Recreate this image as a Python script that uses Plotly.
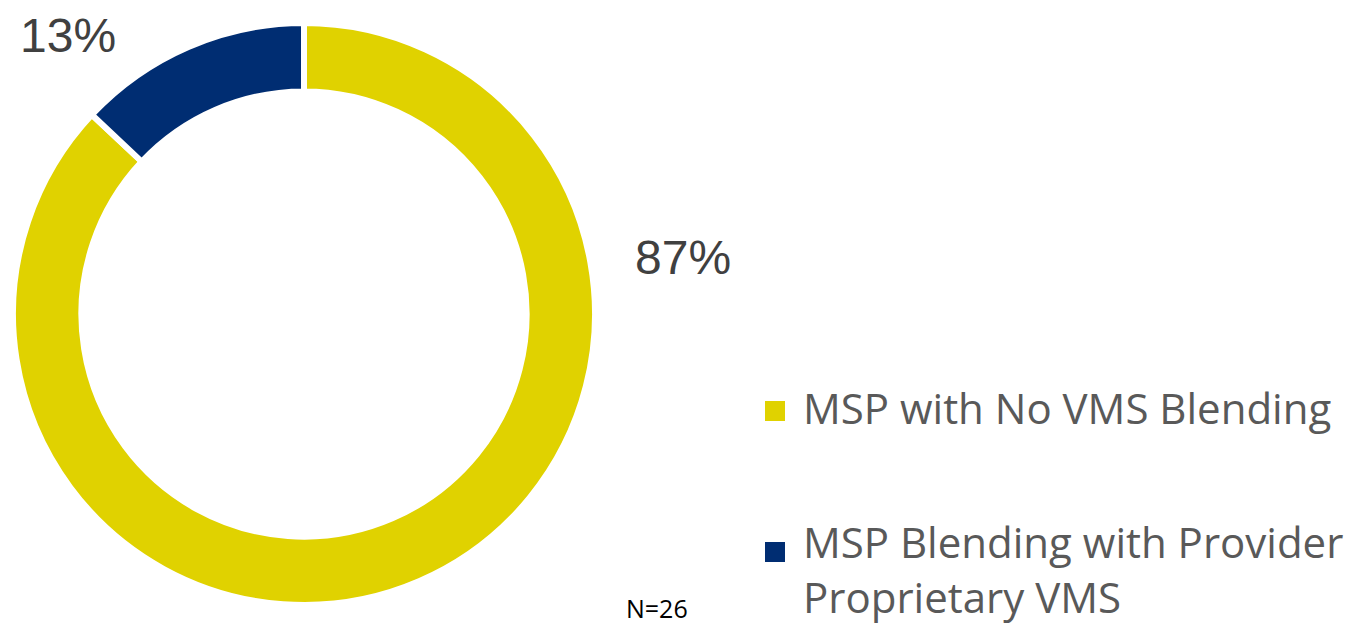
import plotly.graph_objects as go

labels = ["MSP with No VMS Blending", "MSP Blending with Provider<br>Proprietary VMS"]
values = [87, 13]
colors = ["#E0D200", "#002D72"]
sample_note = "N=26"

W, H = 1350, 629

fig = go.Figure()
fig.add_trace(go.Pie(
    labels=labels,
    values=values,
    hole=0.765,
    sort=False,
    direction="clockwise",
    rotation=0,
    textinfo="none",
    marker=dict(colors=colors, line=dict(color="white", width=6)),
    domain=dict(x=[13 / W, 595 / W], y=[1 - 606 / H, 1 - 22 / H]),
    hoverinfo="label+percent",
    showlegend=False,
))

# percentage labels placed outside the ring
pos = [(683, 257), (68, 35)]
for v, (px, py) in zip(values, pos):
    fig.add_annotation(
        x=px / W, y=1 - py / H, xref="paper", yref="paper",
        text=f"{v}%", showarrow=False,
        font=dict(family="Liberation Sans, Arial", size=48, color="#404040"),
        xanchor="center", yanchor="middle",
    )

# legend drawn as swatches + text
swatch_tops = [401, 542]
text_tops = [377, 511]
for lab, col, st, tt in zip(labels, colors, swatch_tops, text_tops):
    fig.add_shape(
        type="rect", xref="paper", yref="paper",
        x0=765 / W, x1=785 / W, y0=1 - (st + 20) / H, y1=1 - st / H,
        fillcolor=col, line=dict(width=0),
    )
    fig.add_annotation(
        x=801 / W, y=1 - tt / H, xref="paper", yref="paper",
        text=lab, showarrow=False, align="left",
        font=dict(family="Open Sans", size=42, color="#595959"),
        xanchor="left", yanchor="top",
    )

fig.add_annotation(
    x=657 / W, y=1 - 608 / H, xref="paper", yref="paper",
    text=sample_note, showarrow=False,
    font=dict(family="Open Sans", size=25, color="#000000"),
    xanchor="center", yanchor="middle",
)

fig.update_layout(
    width=W, height=H,
    margin=dict(l=0, r=0, t=0, b=0),
    paper_bgcolor="white",
    plot_bgcolor="white",
)

fig.write_html("out.html")
